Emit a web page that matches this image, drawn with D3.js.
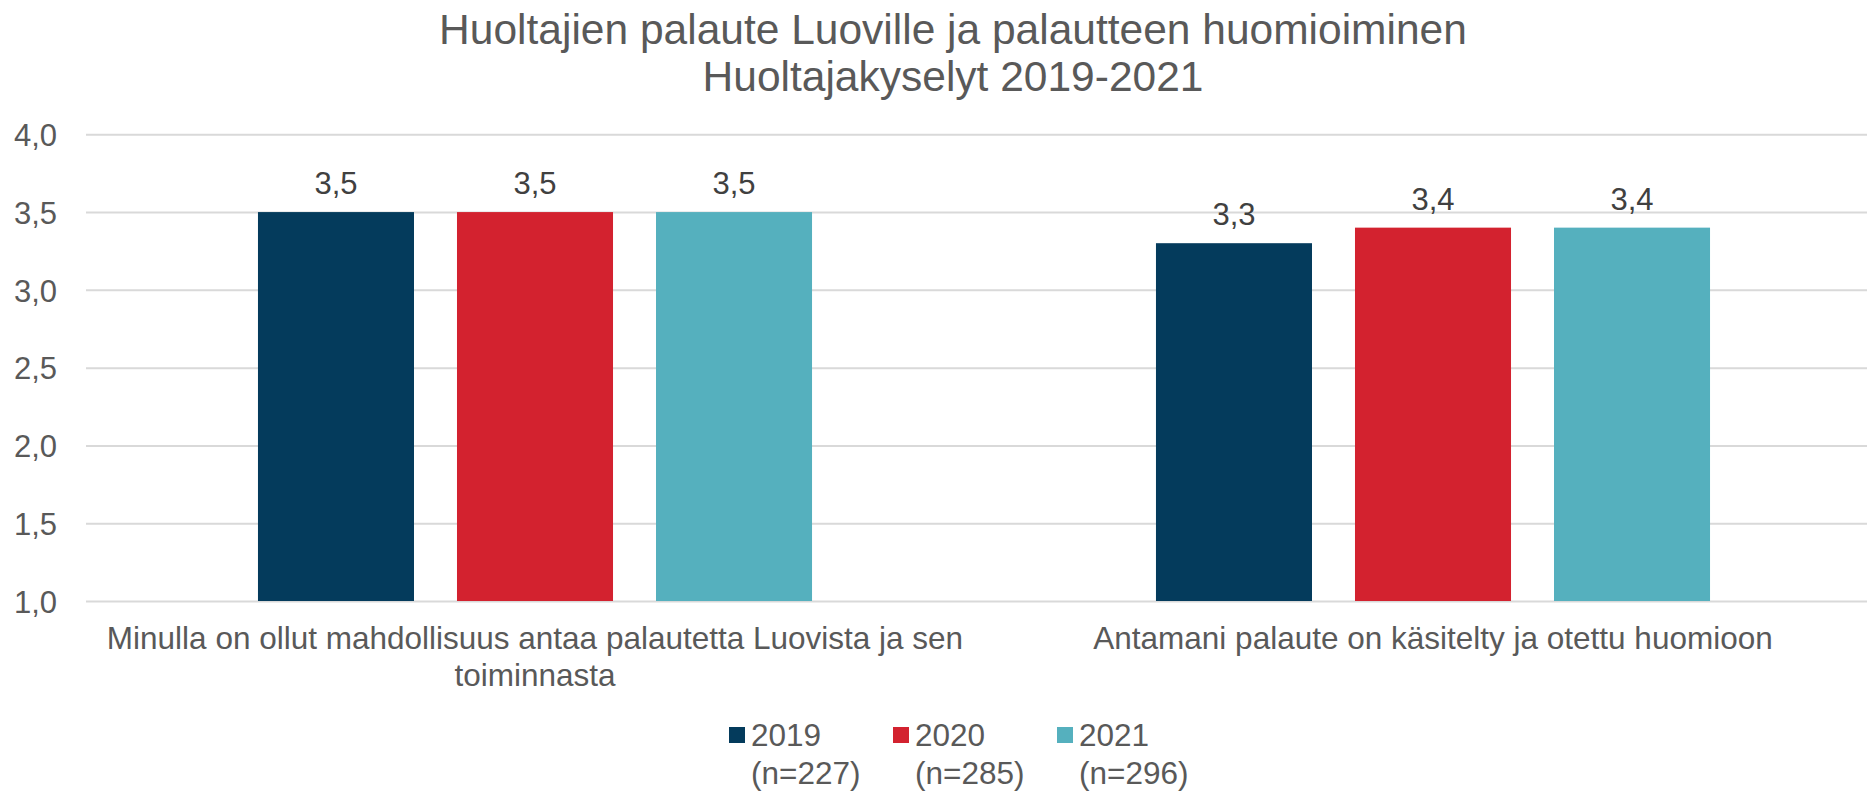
<!DOCTYPE html>
<html lang="fi">
<head>
    <meta charset="UTF-8">
    <title>Huoltajien palaute</title>
    <script src="https://d3js.org/d3.v7.min.js"></script>
    <style>
        body { margin: 0; background: white; }
        text { font-family: 'Liberation Sans', Arial, sans-serif; fill: #595959; }
        .value { fill: #404040; }
    </style>
</head>
<body>
<script>
    const width = 1867;
    const height = 791;

    const titleLines = ['Huoltajien palaute Luoville ja palautteen huomioiminen', 'Huoltajakyselyt 2019-2021'];
    const categories = ['Minulla on ollut mahdollisuus antaa palautetta Luovista ja sen toiminnasta',
                        'Antamani palaute on käsitelty ja otettu huomioon'];
    const series = ['2019', '2020', '2021'];
    const seriesN = ['(n=227)', '(n=285)', '(n=296)'];
    const colors = ['#043B5C', '#D3222F', '#55B0BE'];
    const values = [
        [3.5, 3.5, 3.5],
        [3.3, 3.4, 3.4]
    ];
    const yTicks = [1.0, 1.5, 2.0, 2.5, 3.0, 3.5, 4.0];

    const fmt = v => d3.format('.1f')(v).replace('.', ',');

    const svg = d3.select('body').append('svg').attr('width', width).attr('height', height);

    const y = d3.scaleLinear().domain([1, 4]).range([601, 134.3]);
    const x0 = d3.scaleBand().domain(categories).range([86, 1882]).paddingInner(0.383).paddingOuter(0.1915);
    const x1 = d3.scaleBand().domain(series).range([0, x0.bandwidth()]).paddingInner(0.216);

    // title
    svg.selectAll('.title')
        .data(titleLines).enter()
        .append('text')
        .attr('class', 'title')
        .attr('x', 953)
        .attr('y', (d, i) => 44 + i * 47)
        .attr('text-anchor', 'middle')
        .style('font-size', '42.5px')
        .text(d => d);

    // gridlines + y labels
    const yAxis = svg.append('g')
        .attr('transform', 'translate(86,0)')
        .call(d3.axisLeft(y).tickValues(yTicks).tickFormat(fmt).tickSize(-(width - 86)).tickPadding(29));
    yAxis.select('.domain').remove();
    yAxis.selectAll('line').attr('stroke', '#D9D9D9').attr('stroke-width', 2);
    yAxis.selectAll('text').attr('fill', '#595959').style('font-size', '31px')
        .style('font-family', "'Liberation Sans', Arial, sans-serif").attr('dy', '0.36em');

    // bars
    const groups = svg.selectAll('.grp')
        .data(categories).enter()
        .append('g')
        .attr('transform', d => `translate(${x0(d)},0)`);

    groups.selectAll('rect')
        .data((d, i) => values[i].map((v, j) => ({s: series[j], v: v, j: j})))
        .enter().append('rect')
        .attr('x', d => x1(d.s))
        .attr('width', x1.bandwidth())
        .attr('y', d => y(d.v))
        .attr('height', d => y(1) - y(d.v))
        .attr('fill', d => colors[d.j]);

    groups.selectAll('.value')
        .data((d, i) => values[i].map((v, j) => ({s: series[j], v: v})))
        .enter().append('text')
        .attr('class', 'value')
        .attr('x', d => x1(d.s) + x1.bandwidth() / 2)
        .attr('y', d => y(d.v) - 18)
        .attr('text-anchor', 'middle')
        .style('font-size', '31px')
        .text(d => fmt(d.v));

    // category labels, wrapped to the band step
    svg.selectAll('.cat')
        .data(categories).enter()
        .append('text')
        .attr('class', 'cat')
        .attr('text-anchor', 'middle')
        .style('font-size', '31.5px')
        .each(function(d) {
            const el = d3.select(this);
            const cx = x0(d) + x0.bandwidth() / 2;
            const words = d.split(' ');
            const lines = [];
            let line = [];
            const probe = el.append('tspan');
            words.forEach(w => {
                probe.text(line.concat(w).join(' '));
                if (probe.node().getComputedTextLength() > x0.step() - 10 && line.length) {
                    lines.push(line.join(' '));
                    line = [w];
                } else {
                    line.push(w);
                }
            });
            lines.push(line.join(' '));
            probe.remove();
            lines.forEach((l, i) => {
                el.append('tspan').attr('x', cx).attr('y', 649 + i * 37).text(l);
            });
        });

    // legend
    const legend = svg.selectAll('.leg')
        .data(series).enter()
        .append('g')
        .attr('transform', (d, i) => `translate(${729 + i * 164},727)`);
    legend.append('rect').attr('width', 16).attr('height', 16).attr('fill', (d, i) => colors[i]);
    legend.append('text').attr('x', 22).attr('y', 19).style('font-size', '31.5px').text(d => d);
    legend.append('text').attr('x', 22).attr('y', 57).style('font-size', '31.5px').text((d, i) => seriesN[i]);
</script>
</body>
</html>
